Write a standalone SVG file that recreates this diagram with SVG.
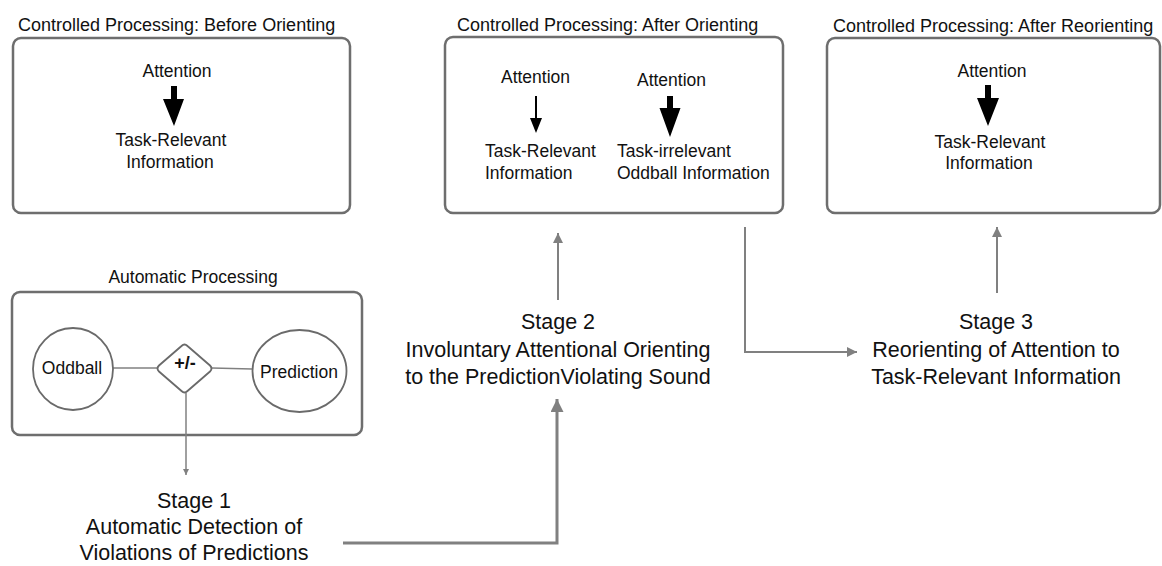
<svg xmlns="http://www.w3.org/2000/svg" width="1162" height="566" viewBox="0 0 1162 566">
<style>
text{font-family:"Liberation Sans",Arial,sans-serif;fill:#111}
.title{font-size:18px}
.lbl{font-size:17.5px}
.stage{font-size:21.5px;text-anchor:middle}
.mid{text-anchor:middle}
.box{fill:#fff;stroke:#6e6e6e;stroke-width:2.5}
.shape{fill:#fff;stroke:#6a6a6a;stroke-width:1.8}
.conn{fill:none;stroke:#808080}
.blk{fill:#000}
</style>
<defs>
<marker id="ahS" viewBox="0 0 10 10" refX="10" refY="5" markerUnits="userSpaceOnUse" markerWidth="8" markerHeight="6" orient="auto"><path d="M0,0 L10,5 L0,10 Z" fill="#808080"/></marker>
<marker id="ahM" viewBox="0 0 10 10" refX="10" refY="5" markerUnits="userSpaceOnUse" markerWidth="14" markerHeight="10" orient="auto"><path d="M0,0 L10,5 L0,10 Z" fill="#808080"/></marker>
<marker id="ahL" viewBox="0 0 10 10" refX="10" refY="5" markerUnits="userSpaceOnUse" markerWidth="18" markerHeight="13" orient="auto"><path d="M0,0 L10,5 L0,10 Z" fill="#808080"/></marker>
</defs>

<g id="before-orienting">
<text class="title" x="18" y="31">Controlled Processing: Before Orienting</text>
<rect class="box" x="13" y="38" width="337" height="175" rx="8"/>
<text class="lbl mid" x="177" y="77">Attention</text>
<polygon class="blk" points="171,86 177,86 177,99 184,99 174,126 163,99 171,99"/>
<text class="lbl mid" x="171" y="146">Task-Relevant</text>
<text class="lbl mid" x="170" y="168">Information</text>
</g>

<g id="after-orienting">
<text class="title" x="457" y="31">Controlled Processing: After Orienting</text>
<rect class="box" x="445" y="37" width="338" height="176" rx="8"/>
<text class="lbl mid" x="535.5" y="83">Attention</text>
<line x1="536" y1="96" x2="536" y2="120" stroke="#000" stroke-width="2"/>
<polygon class="blk" points="530,118 542,118 536,133"/>
<text class="lbl" x="485" y="157">Task-Relevant</text>
<text class="lbl" x="485" y="179">Information</text>
<text class="lbl mid" x="671.5" y="86">Attention</text>
<polygon class="blk" points="667,96 673,96 673,108 680.5,108 670,137 659.5,108 667,108"/>
<text class="lbl" x="617" y="157">Task-irrelevant</text>
<text class="lbl" x="617" y="179">Oddball Information</text>
</g>

<g id="after-reorienting">
<text class="title" x="833" y="32">Controlled Processing: After Reorienting</text>
<rect class="box" x="827" y="38" width="333" height="175" rx="8"/>
<text class="lbl mid" x="992" y="77">Attention</text>
<polygon class="blk" points="985,85 991,85 991,98 999,98 988,126 977,98 985,98"/>
<text class="lbl mid" x="990" y="148">Task-Relevant</text>
<text class="lbl mid" x="989" y="169">Information</text>
</g>

<g id="automatic-processing">
<text class="lbl mid" x="193" y="283">Automatic Processing</text>
<rect class="box" x="12" y="292" width="350" height="143" rx="8"/>
</g>

<g id="connectors">
<line class="conn" stroke-width="1.5" x1="113" y1="368" x2="157" y2="368"/>
<line class="conn" stroke-width="1.5" x1="212" y1="368" x2="252" y2="369"/>
<line class="conn" stroke-width="1.5" x1="186" y1="393" x2="186" y2="475" marker-end="url(#ahS)"/>
<polyline class="conn" stroke-width="3" points="343,543 557,543 557,399" marker-end="url(#ahL)"/>
<line class="conn" stroke-width="2" x1="558" y1="300" x2="558" y2="233" marker-end="url(#ahM)"/>
<polyline class="conn" stroke-width="2" points="745,227 745,352 857,352" marker-end="url(#ahM)"/>
<line class="conn" stroke-width="2" x1="997" y1="293" x2="997" y2="227" marker-end="url(#ahM)"/>
</g>

<g id="oddball">
<ellipse class="shape" cx="73" cy="369" rx="40" ry="41"/>
<text class="lbl mid" x="72" y="374">Oddball</text>
</g>

<g id="comparator">
<path class="shape" d="M181.5,346 Q184.5,343 187.5,346 L210,365.5 Q213,368.5 210,371.5 L187.5,391 Q184.5,394 181.5,391 L159,371.5 Q156,368.5 159,365.5 Z"/>
<text class="mid" x="185" y="369" style="font-size:18px;font-weight:bold">+/-</text>
</g>

<g id="prediction">
<ellipse class="shape" cx="299.5" cy="371" rx="47" ry="41"/>
<text class="lbl mid" x="299" y="378">Prediction</text>
</g>

<g id="stage1">
<text class="stage" x="194" y="508">Stage 1</text>
<text class="stage" x="194" y="534">Automatic Detection of</text>
<text class="stage" x="194" y="560">Violations of Predictions</text>
</g>

<g id="stage2">
<text class="stage" x="558" y="329">Stage 2</text>
<text class="stage" x="558" y="357">Involuntary Attentional Orienting</text>
<text class="stage" x="558" y="384">to the PredictionViolating Sound</text>
</g>

<g id="stage3">
<text class="stage" x="996" y="329">Stage 3</text>
<text class="stage" x="996" y="357">Reorienting of Attention to</text>
<text class="stage" x="996" y="384">Task-Relevant Information</text>
</g>
</svg>
